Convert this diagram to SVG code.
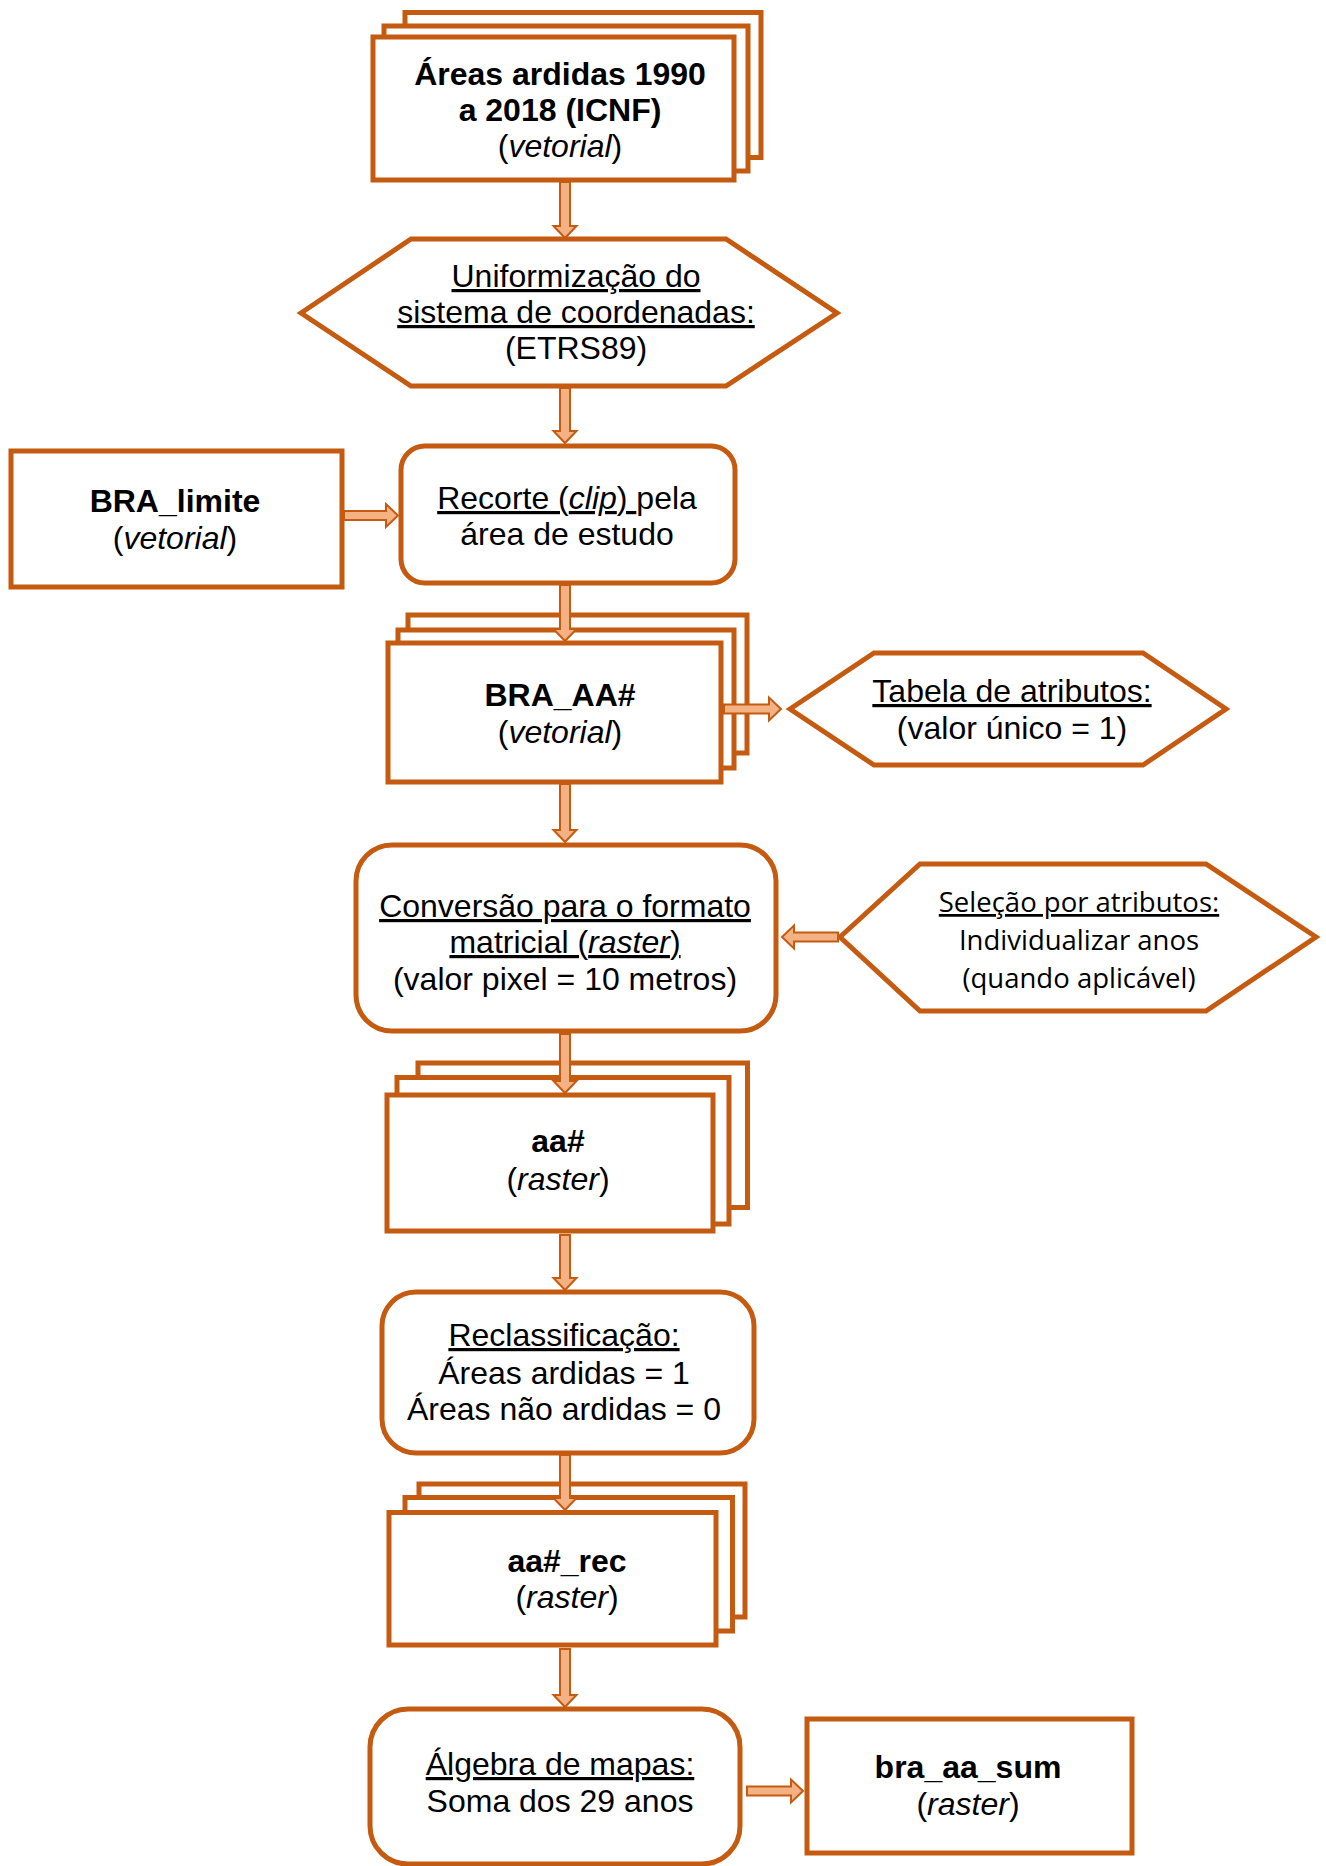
<svg xmlns="http://www.w3.org/2000/svg" width="1326" height="1866" viewBox="0 0 1326 1866">
<style>
.box{fill:#fff;stroke:#C55A11;stroke-width:5}
.arr{fill:#F4B183;stroke:#C55A11;stroke-width:2;stroke-linejoin:miter}
.t{font-family:"Liberation Sans",Arial,sans-serif;font-size:32px;fill:#000;text-anchor:middle}
.c{font-family:"Open Sans","Noto Sans",sans-serif;font-size:27.5px;fill:#000;text-anchor:middle}
.b{font-weight:bold}
.i{font-style:italic}
.u{text-decoration:underline}
</style>
<rect width="1326" height="1866" fill="#fff"/>
<g id="n_areas_ardidas">
<rect class="box" x="405" y="12.5" width="356" height="145"/>
<rect class="box" x="384" y="26" width="364" height="145"/>
<rect class="box" x="373" y="37" width="361" height="143"/>
<text class="t b" x="560" y="85">Áreas ardidas 1990</text>
<text class="t b" x="560" y="121">a 2018 (ICNF)</text>
<text class="t" x="560" y="157">(<tspan class="i">vetorial</tspan>)</text>
</g>
<g id="n_uniformizacao">
<polygon class="box" points="301,313 411,239 726,239 837,313 726,386 411,386"/>
<text class="t u" x="576" y="287">Uniformização do</text>
<text class="t u" x="576" y="323">sistema de coordenadas:</text>
<text class="t" x="576" y="359">(ETRS89)</text>
</g>
<g id="n_bra_limite">
<rect class="box" x="11" y="451" width="331" height="136"/>
<text class="t b" x="175" y="512">BRA_limite</text>
<text class="t" x="175" y="549">(<tspan class="i">vetorial</tspan>)</text>
</g>
<g id="n_recorte">
<rect class="box" x="401" y="446" width="334" height="137" rx="24" ry="24"/>
<text class="t" x="567" y="509" xml:space="preserve"><tspan class="u">Recorte (<tspan class="i">clip</tspan>) </tspan>pela</text>
<text class="t" x="567" y="545">área de estudo</text>
</g>
<g id="n_bra_aa">
<rect class="box" x="408" y="615" width="339" height="138"/>
<rect class="box" x="398" y="630" width="336" height="138"/>
<rect class="box" x="388" y="643" width="333" height="139"/>
<text class="t b" x="560" y="706">BRA_AA#</text>
<text class="t" x="560" y="743">(<tspan class="i">vetorial</tspan>)</text>
</g>
<g id="n_tabela">
<polygon class="box" points="790,709 874,653 1143,653 1226,709 1143,765 874,765"/>
<text class="t u" x="1012" y="702">Tabela de atributos:</text>
<text class="t" x="1012" y="739">(valor único = 1)</text>
</g>
<g id="n_conversao">
<rect class="box" x="356" y="845" width="420" height="186" rx="36" ry="36"/>
<text class="t u" x="565" y="917">Conversão para o formato</text>
<text class="t u" x="565" y="953">matricial (<tspan class="i">raster</tspan>)</text>
<text class="t" x="565" y="990">(valor pixel = 10 metros)</text>
</g>
<g id="n_selecao">
<polygon class="box" points="840,937 920,864 1206,864 1316,937 1206,1011 920,1011"/>
<text class="c u" x="1079" y="912">Seleção por atributos:</text>
<text class="c" x="1079" y="950">Individualizar anos</text>
<text class="c" x="1079" y="988">(quando aplicável)</text>
</g>
<g id="n_aa">
<rect class="box" x="418" y="1063" width="329.5" height="144.5"/>
<rect class="box" x="397" y="1077.5" width="332" height="146.5"/>
<rect class="box" x="387" y="1095" width="326" height="136"/>
<text class="t b" x="558" y="1152">aa#</text>
<text class="t" x="558" y="1190">(<tspan class="i">raster</tspan>)</text>
</g>
<g id="n_reclassificacao">
<rect class="box" x="382" y="1292" width="372" height="161" rx="34" ry="34"/>
<text class="t u" x="564" y="1346">Reclassificação:</text>
<text class="t" x="564" y="1384">Áreas ardidas = 1</text>
<text class="t" x="564" y="1420">Áreas não ardidas = 0</text>
</g>
<g id="n_aa_rec">
<rect class="box" x="419" y="1484" width="326" height="133"/>
<rect class="box" x="405" y="1497.5" width="327.5" height="133.5"/>
<rect class="box" x="389" y="1512.5" width="327" height="132.5"/>
<text class="t b" x="567" y="1572">aa#_rec</text>
<text class="t" x="567" y="1608">(<tspan class="i">raster</tspan>)</text>
</g>
<g id="n_algebra">
<rect class="box" x="370" y="1709" width="370" height="155" rx="38" ry="38"/>
<text class="t u" x="560" y="1775">Álgebra de mapas:</text>
<text class="t" x="560" y="1812">Soma dos 29 anos</text>
</g>
<g id="n_bra_aa_sum">
<rect class="box" x="807" y="1719" width="325" height="134"/>
<text class="t b" x="968" y="1778">bra_aa_sum</text>
<text class="t" x="968" y="1815">(<tspan class="i">raster</tspan>)</text>
</g>
<g id="connectors">
<path class="arr" d="M560,182 H570 V226 H576.5 L565,238 L553.5,226 H560 Z"/>
<path class="arr" d="M560,388 H570 V431 H576.5 L565,443 L553.5,431 H560 Z"/>
<path class="arr" d="M344,511 V520 H386 V527 L398,515.5 L386,504 V511 Z"/>
<path class="arr" d="M560,585 H570 V629 H576.5 L565,641 L553.5,629 H560 Z"/>
<path class="arr" d="M724,704.5 V713.5 H769 V720.5 L781,709 L769,697.5 V704.5 Z"/>
<path class="arr" d="M560,784 H570 V830 H576.5 L565,842 L553.5,830 H560 Z"/>
<path class="arr" d="M838,932.5 V941.5 H794 V948.5 L782,937 L794,925.5 V932.5 Z"/>
<path class="arr" d="M560,1034 H570 V1081 H576.5 L565,1093 L553.5,1081 H560 Z"/>
<path class="arr" d="M560,1235 H570 V1278 H576.5 L565,1290 L553.5,1278 H560 Z"/>
<path class="arr" d="M560,1455 H570 V1498 H576.5 L565,1510 L553.5,1498 H560 Z"/>
<path class="arr" d="M560,1649 H570 V1695 H576.5 L565,1707 L553.5,1695 H560 Z"/>
<path class="arr" d="M747,1786.5 V1795.5 H791 V1802.5 L803,1791 L791,1779.5 V1786.5 Z"/>
</g>
</svg>
